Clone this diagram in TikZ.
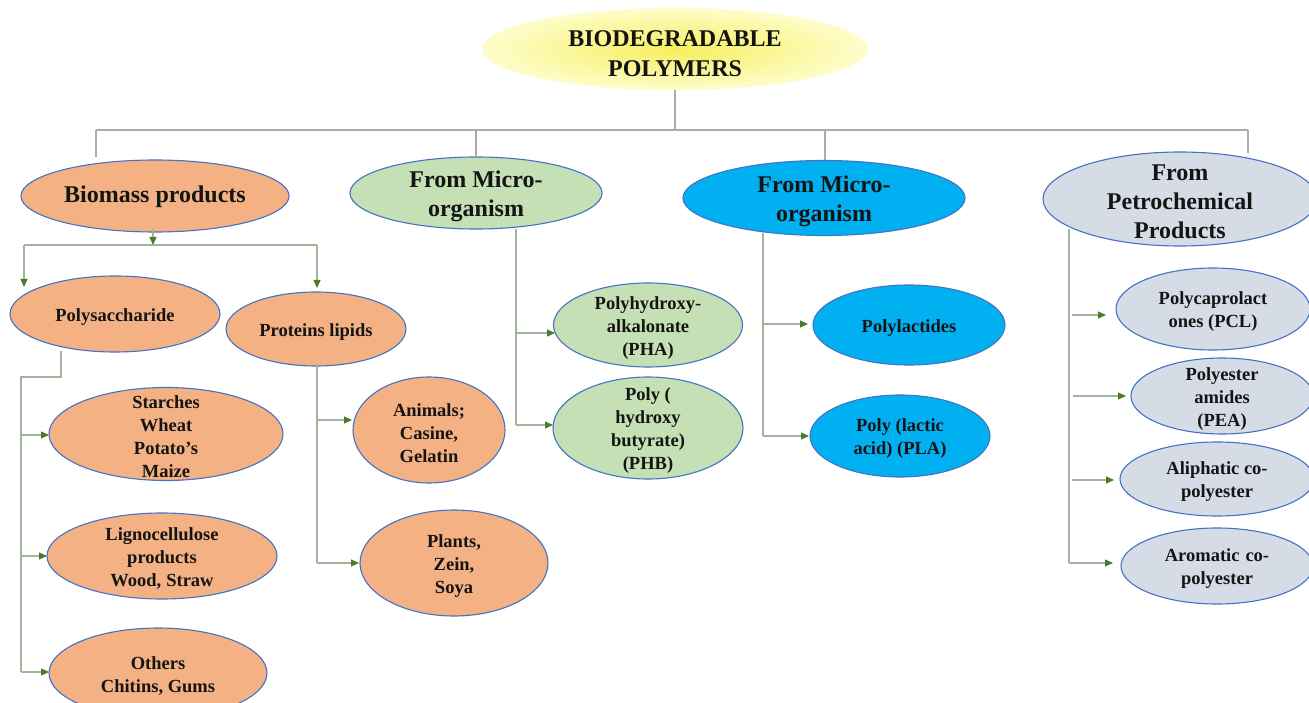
\documentclass[tikz,border=0pt]{standalone}
\usepackage{fontspec}
\setmainfont{Liberation Serif}
\usetikzlibrary{shapes.geometric,arrows.meta}
\definecolor{orangef}{HTML}{F4B183}
\definecolor{greenf}{HTML}{C5E0B4}
\definecolor{bluef}{HTML}{00B0F0}
\definecolor{grayf}{HTML}{D6DCE5}
\definecolor{edgec}{HTML}{4472C4}
\definecolor{lineg}{HTML}{A2B59C}
\definecolor{topline}{HTML}{A8ADA6}
\definecolor{arrowg}{HTML}{4E7A2E}
\definecolor{yin}{HTML}{F6EF5E}
\definecolor{yout}{HTML}{FEFDCB}
\definecolor{txt}{HTML}{141414}
\begin{document}
\begin{tikzpicture}[x=1pt,y=-1pt,
  ell/.style={ellipse, draw=edgec, line width=1.1pt, inner sep=0pt},
  esize/.style 2 args={minimum width=#1pt, minimum height=#2pt},
  orn/.style={ell, fill=orangef},
  grn/.style={ell, fill=greenf},
  blu/.style={ell, fill=bluef},
  gry/.style={ell, fill=grayf},
  bigtxt/.style={font=\bfseries\fontsize{24}{29}\selectfont, align=center, text=txt, inner sep=0pt, yshift=-3pt},
  smalltxt/.style={font=\bfseries\fontsize{18.5}{23}\selectfont, align=center, text=txt, inner sep=0pt, yshift=-3pt},
  tree/.style={draw=topline, line width=1.1pt},
  conn/.style={draw=lineg, line width=1.1pt},
  arr/.style={conn, -{Triangle[length=8pt,width=7pt,color=arrowg]}}
]
\clip (0,0) rectangle (1309,703);
\fill[white] (0,0) rectangle (1309,703);

% title
\node[ellipse, esize={386}{82}, inner sep=0pt, shade, inner color=yin, outer color=yout] (title) at (675,49) {};
\node[bigtxt, font=\bfseries\fontsize{24}{30}\selectfont, yshift=-2pt] (titlet) at (title) {BIODEGRADABLE\\POLYMERS};

% level 1
\node[orn, esize={268}{72}] (bio) at (155,196) {};
\node[bigtxt, yshift=2pt] (biot) at (bio) {Biomass products};
\node[grn, esize={252}{72}] (mic1) at (476,193) {};
\node[bigtxt] (mic1t) at (mic1) {From Micro-\\organism};
\node[blu, esize={282}{75}] (mic2) at (824,198) {};
\node[bigtxt] (mic2t) at (mic2) {From Micro-\\organism};
\node[gry, esize={274}{94}] (pet) at (1180,199) {};
\node[bigtxt] (pett) at (pet) {From\\Petrochemical\\Products};

% biomass children
\node[orn, esize={210}{76}] (poly) at (115,314) {};
\node[smalltxt] (polyt) at (poly) {Polysaccharide};
\node[orn, esize={180}{74}] (prot) at (316,329) {};
\node[smalltxt] (prott) at (prot) {Proteins lipids};
\node[orn, esize={234}{93}] (starch) at (166,434) {};
\node[smalltxt] (starcht) at (starch) {Starches\\Wheat\\Potato’s\\Maize};
\node[orn, esize={230}{86}] (ligno) at (162,556) {};
\node[smalltxt] (lignot) at (ligno) {Lignocellulose\\products\\Wood,\hspace{5pt}Straw};
\node[orn, esize={218}{90}] (other) at (158,673) {};
\node[smalltxt] (othert) at (other) {Others\\Chitins, Gums};
\node[orn, esize={152}{106}] (animal) at (429,430) {};
\node[smalltxt] (animalt) at (animal) {Animals;\\Casine,\\Gelatin};
\node[orn, esize={188}{106}] (plant) at (454,563) {};
\node[smalltxt] (plantt) at (plant) {Plants,\\Zein,\\Soya};

% microorganism (green) children
\node[grn, esize={189}{84}] (pha) at (648,325) {};
\node[smalltxt] (phat) at (pha) {Polyhydroxy-\\alkalonate\\(PHA)};
\node[grn, esize={190}{102}] (phb) at (648,428) {};
\node[smalltxt] (phbt) at (phb) {Poly (\\hydroxy\\butyrate)\\(PHB)};

% microorganism (blue) children
\node[blu, esize={192}{80}] (plac) at (909,325) {};
\node[smalltxt] (plact) at (plac) {Polylactides};
\node[blu, esize={180}{82}] (pla) at (900,436) {};
\node[smalltxt] (plat) at (pla) {Poly (lactic\\acid) (PLA)};

% petrochemical children
\node[gry, esize={194}{82}] (pcl) at (1213,309) {};
\node[smalltxt] (pclt) at (pcl) {Polycaprolact\\ones (PCL)};
\node[gry, esize={182}{76}] (pea) at (1222,396) {};
\node[smalltxt] (peat) at (pea) {Polyester\\amides\\(PEA)};
\node[gry, esize={194}{74}] (ali) at (1217,479) {};
\node[smalltxt] (alit) at (ali) {Aliphatic co-\\polyester};
\node[gry, esize={192}{76}] (aro) at (1217,566) {};
\node[smalltxt] (arot) at (aro) {Aromatic\hspace{6pt}co-\\polyester};

% top tree
\coordinate (tb) at (675,130);
\coordinate (tl) at (96,130);
\coordinate (tr) at (1248,130);
\coordinate (e1) at (96,157);
\coordinate (e2) at (476,157);
\coordinate (e3) at (825,160);
\coordinate (e4) at (1248,153);
\draw[tree] (title.south) -- (tb);
\draw[tree] (tl) -- (tr);
\draw[tree] (tl) -- (e1);
\draw[tree] (e2 |- tb) -- (e2);
\draw[tree] (e3 |- tb) -- (e3);
\draw[tree] (tr) -- (e4);

% biomass connectors
\coordinate (bj) at (153,245);
\coordinate (bl) at (24,245);
\coordinate (br) at (317,245);
\coordinate (blt) at (24,287);
\coordinate (brt) at (317,288);
\draw[arr] (153,229) -- (bj);
\draw[conn] (bl) -- (br);
\draw[arr] (bl) -- (blt);
\draw[arr] (br) -- (brt);

% polysaccharide connectors
\coordinate (p0) at (61,351);
\coordinate (p1) at (61,377);
\coordinate (p2) at (21,377);
\coordinate (p3) at (21,672);
\draw[conn] (p0) -- (p1) -- (p2) -- (p3);
\draw[arr] (21,435) -- (49,435);
\draw[arr] (21,556) -- (47,556);
\draw[arr] (p3) -- (49,672);

% proteins connectors
\coordinate (q0) at (317,365);
\coordinate (q1) at (317,563);
\draw[conn] (q0) -- (q1);
\draw[arr] (317,420) -- (352,420);
\draw[arr] (q1) -- (359,563);

% green micro connectors
\coordinate (g0) at (516,229);
\coordinate (g1) at (516,425);
\draw[conn] (g0) -- (g1);
\draw[arr] (516,333) -- (555,333);
\draw[arr] (g1) -- (553,425);

% blue micro connectors
\coordinate (m0) at (763,233);
\coordinate (m1) at (763,436);
\draw[conn] (m0) -- (m1);
\draw[arr] (763,324) -- (808,324);
\draw[arr] (m1) -- (809,436);

% petro connectors
\coordinate (r0) at (1069,229);
\coordinate (r1) at (1069,563);
\draw[conn] (r0) -- (r1);
\draw[arr] (1072,315) -- (1106,315);
\draw[arr] (1073,396) -- (1126,396);
\draw[arr] (1072,480) -- (1114,480);
\draw[arr] (r1) -- (1113,563);
\end{tikzpicture}
\end{document}
